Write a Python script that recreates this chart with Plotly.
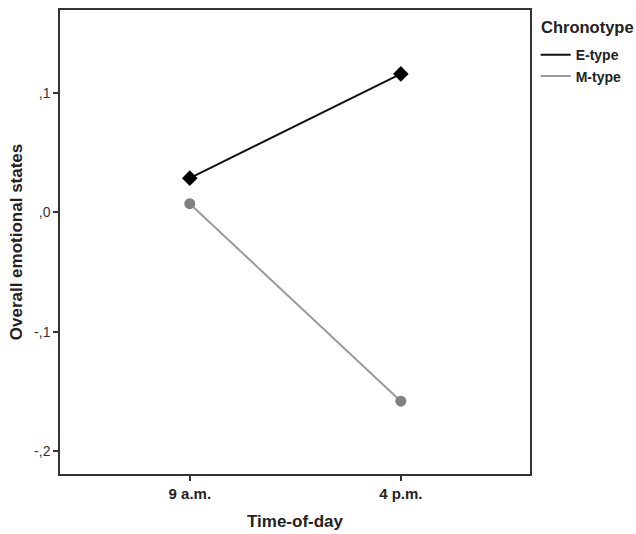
import plotly.graph_objects as go

times = ["9 a.m.", "4 p.m."]
e_type = [0.0287, 0.1160]
m_type = [0.0073, -0.1580]
y_ticks = [0.1, 0.0, -0.1, -0.2]
y_tick_labels = [",1", ",0", "-,1", "-,2"]

FONT = "Liberation Sans, Arial, sans-serif"

fig = go.Figure()
fig.add_trace(go.Scatter(
    x=[0, 1], y=e_type, mode="lines+markers", showlegend=False,
    line=dict(color="#111111", width=2),
    marker=dict(symbol="diamond", size=12, color="#000000"),
))
fig.add_trace(go.Scatter(
    x=[0, 1], y=m_type, mode="lines+markers", showlegend=False,
    line=dict(color="#9a9a9a", width=2),
    marker=dict(symbol="circle", size=11, color="#808080"),
))
# legend entries (line only)
fig.add_trace(go.Scatter(x=[None], y=[None], mode="lines", name="<b>E-type</b>",
                         line=dict(color="#111111", width=2)))
fig.add_trace(go.Scatter(x=[None], y=[None], mode="lines", name="<b>M-type</b>",
                         line=dict(color="#9a9a9a", width=2)))

fig.update_layout(
    width=636, height=534,
    margin=dict(l=60, r=106, t=10, b=60, autoexpand=False),
    paper_bgcolor="white", plot_bgcolor="white",
    font=dict(family=FONT, color="#222222"),
    legend=dict(
        x=1.012, xanchor="left", y=0.937, yanchor="top",
        font=dict(size=14, color="#222222"),
        itemwidth=30, tracegroupgap=0,
        bgcolor="rgba(0,0,0,0)",
    ),
    annotations=[dict(
        text="<b>Chronotype</b>", xref="paper", yref="paper",
        x=1.019, y=0.963, xanchor="left", yanchor="middle", showarrow=False,
        font=dict(size=16.5, color="#222222"),
    )],
    xaxis=dict(
        range=[-0.615, 1.612], automargin=False,
        tickmode="array", tickvals=[0, 1],
        ticktext=["<b>%s</b>" % t for t in times],
        ticks="outside", ticklen=5, tickcolor="#333333", tickwidth=1.5,
        tickfont=dict(size=15, color="#222222"),
        showline=True, linecolor="#333333", linewidth=1.5, mirror=True,
        showgrid=False, zeroline=False,
        title=dict(text="<b>Time-of-day</b>", font=dict(size=17, color="#222222"), standoff=14),
    ),
    yaxis=dict(
        range=[-0.219, 0.1695], automargin=False,
        tickmode="array", tickvals=y_ticks, ticktext=y_tick_labels,
        ticks="outside", ticklen=5, tickcolor="#333333", tickwidth=1.5,
        tickfont=dict(size=14, color="#333333"),
        showline=True, linecolor="#333333", linewidth=1.5, mirror=True,
        showgrid=False, zeroline=False,
        title=dict(text="<b>Overall emotional states</b>", font=dict(size=17, color="#222222"), standoff=7),
    ),
)

# remove the default page margin so the figure fills the window exactly
fig.write_html("out.html", config={"displayModeBar": False},
               post_script="document.body.style.margin='0';document.body.style.overflow='hidden';")
